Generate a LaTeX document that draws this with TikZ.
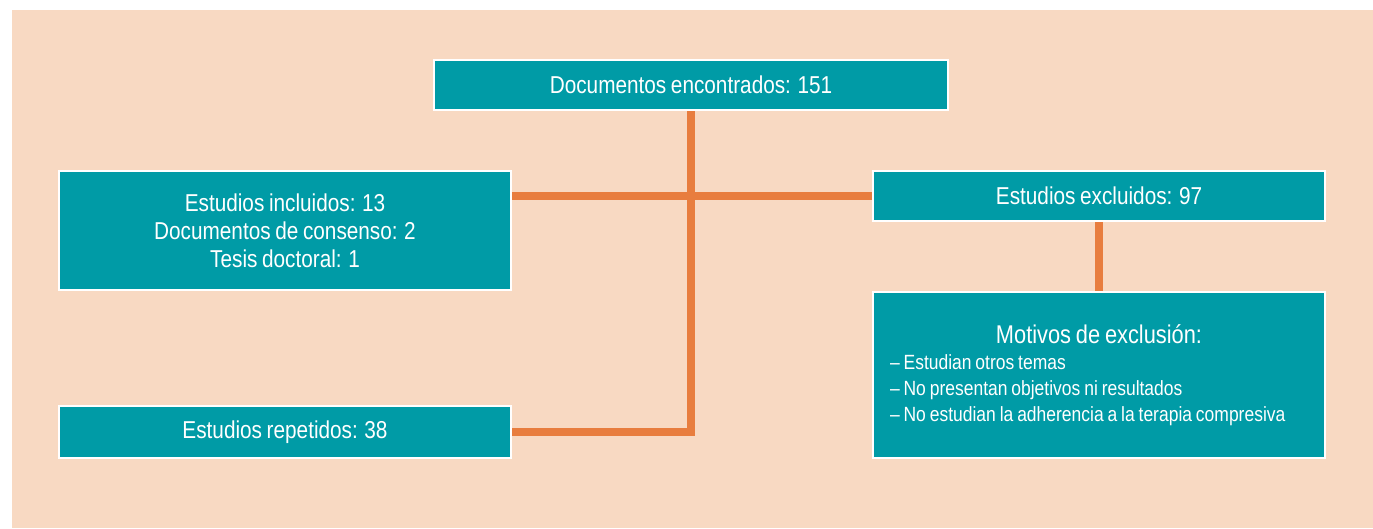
\documentclass[tikz,border=0pt]{standalone}
\usepackage{fontspec}
\setmainfont[FakeStretch=0.85, WordSpace=0.8]{Liberation Sans}
\usetikzlibrary{backgrounds}
\definecolor{peach}{HTML}{F8D9C2}
\definecolor{teal}{HTML}{009BA6}
\definecolor{rust}{HTML}{E87D3E}
\tikzset{
  box/.style={
    rectangle,
    inner sep=0pt,
    minimum width=9.04cm,
    align=center,
    draw=white,
    line width=0.05cm,
    fill=teal,
    text=white,
    font=\fontsize{13.9}{15.9}\selectfont
  },
  link/.style={rust, line width=0.16cm, line join=miter}
}

\begin{document}
\begin{tikzpicture}
    \useasboundingbox (0,0) rectangle (27.46,-10.56);
    \node (docs) [box, minimum width=10.28cm, minimum height=1cm] at (13.82,-1.70) {Documentos encontrados: 151};
    \node (incl) [box, minimum height=2.38cm] at (5.70,-4.61) {Estudios incluidos: 13\\Documentos de consenso: 2\\Tesis doctoral: 1};
    \node (excl) [box, minimum height=1cm] at (21.98,-3.92) {Estudios excluidos: 97};
    \node (motiv) [box, minimum height=3.32cm, text width=8.36cm, align=flush left,
      font=\fontsize{11.7}{14.8}\selectfont] at (21.98,-7.50)
      {\makebox[8.36cm]{\fontsize{14.6}{16}\selectfont Motivos de exclusión:}\\
       – Estudian otros temas\\
       – No presentan objetivos ni resultados\\
       – No estudian la adherencia a la terapia compresiva};
    \node (rep) [box, minimum height=1.04cm] at (5.70,-8.64) {Estudios repetidos: 38};
    \begin{scope}[on background layer]
      \fill[peach] (0.24,-0.20) rectangle (27.46,-10.56);
      \draw[link] (docs.south) -- (docs.south |- rep.east) -- (rep.east);
      \draw[link] (incl.east |- excl.west) -- (excl.west);
      \draw[link] (excl.south) -- (motiv.north);
    \end{scope}
\end{tikzpicture}
\end{document}
